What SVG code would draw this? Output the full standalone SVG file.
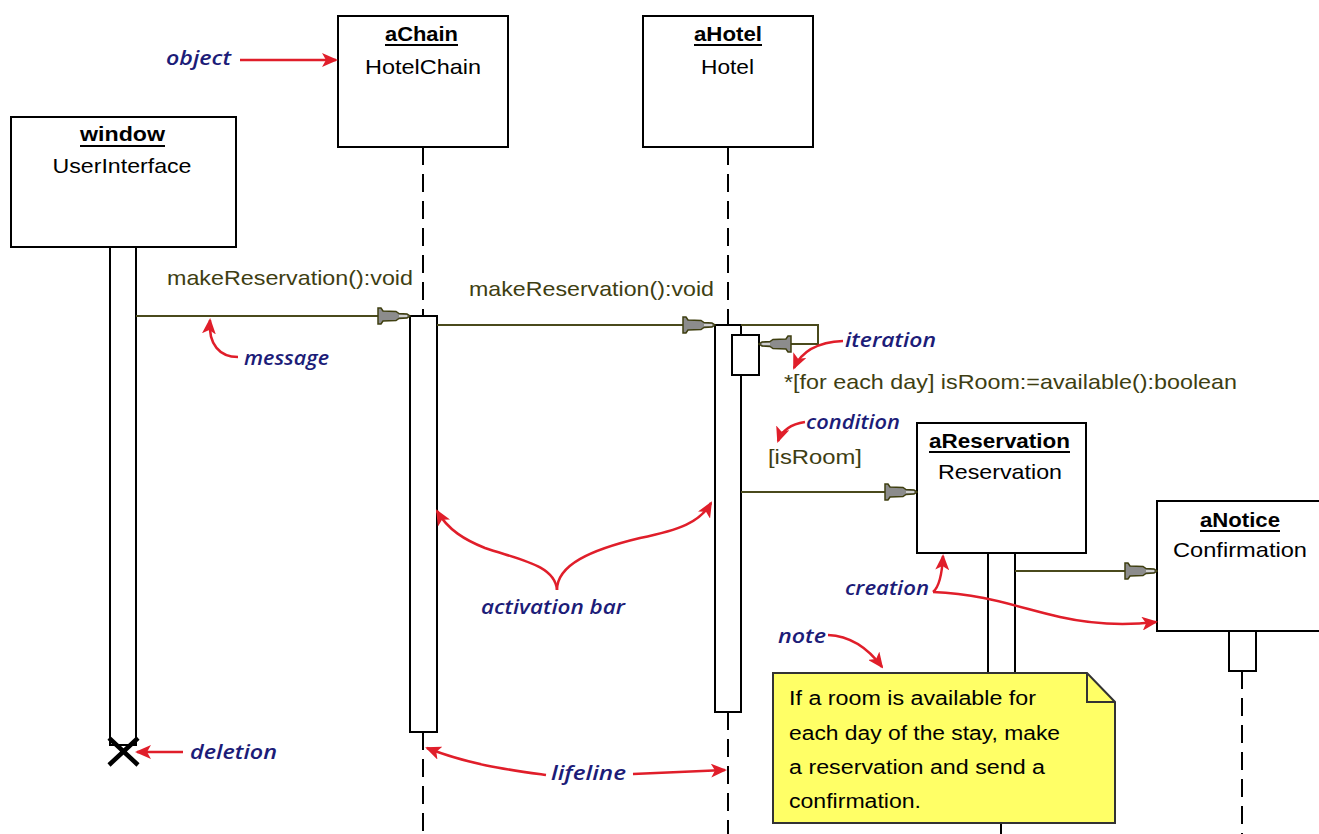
<svg xmlns="http://www.w3.org/2000/svg" width="1319" height="834" viewBox="0 0 1319 834">
<style>
.box{fill:#fff;stroke:#000;stroke-width:2}
.bar{fill:#fff;stroke:#000;stroke-width:2}
.life{stroke:#000;stroke-width:2;stroke-dasharray:18 9;fill:none}
.msg{stroke:#4a4a1c;stroke-width:2;fill:none;marker-end:url(#msgArrow)}
.ml{font-family:"Liberation Sans",Arial,sans-serif;font-size:21px;fill:#3e3e12}
.name{font-family:"Liberation Sans",Arial,sans-serif;font-size:21px;font-weight:bold;fill:#000;text-anchor:middle}
.cls{font-family:"Liberation Sans",Arial,sans-serif;font-size:21px;fill:#000;text-anchor:middle}
.ul{stroke:#000;stroke-width:2}
.ann{font-family:"Open Sans","Noto Sans",sans-serif;font-style:italic;font-weight:600;font-size:20px;fill:#1c1c78}
.red{stroke:#e01e2a;stroke-width:2.5;fill:none;marker-end:url(#redArrow)}
.note{font-family:"Liberation Sans",Arial,sans-serif;font-size:20px;fill:#000}
</style>
<defs>
<marker id="msgArrow" markerUnits="userSpaceOnUse" viewBox="-1 -9 34 18" markerWidth="34" markerHeight="18" refX="32" refY="0" orient="auto">
<path d="M0,-8 L3,-8 L5,-5 L18,-4.5 L21,-2.5 L29,-2 L32,0 L29,2 L21,2.5 L18,4.5 L5,5 L3,8 L0,8 Z" fill="#8c8c8c" stroke="#3f3f10" stroke-width="1.5"/>
<line x1="21" y1="0" x2="29" y2="0" stroke="#fff" stroke-width="1.2"/>
</marker>
<marker id="redArrow" markerUnits="userSpaceOnUse" viewBox="0 -7 16 14" markerWidth="16" markerHeight="14" refX="14" refY="0" orient="auto">
<path d="M0,-7 L16,0 L0,7 L4,0 Z" fill="#e01e2a"/>
</marker>
</defs>
<rect width="1319" height="834" fill="#fff"/>

<g id="lifelines">
<line class="life" x1="423" y1="147" x2="423" y2="316"/>
<line class="life" x1="423" y1="732" x2="423" y2="834"/>
<line class="life" x1="728" y1="147" x2="728" y2="325"/>
<line class="life" x1="728" y1="712" x2="728" y2="834"/>
<line class="life" x1="1001" y1="816" x2="1001" y2="834"/>
<line class="life" x1="1242" y1="671" x2="1242" y2="834"/>
</g>

<g id="window">
<rect class="box" x="11" y="117" width="225" height="130"/>
<text class="name" x="122.5" y="141" textLength="85" lengthAdjust="spacingAndGlyphs">window</text>
<line class="ul" x1="80" y1="146" x2="165" y2="146"/>
<text class="cls" x="122" y="173" textLength="139" lengthAdjust="spacingAndGlyphs">UserInterface</text>
<rect class="bar" x="110" y="247" width="26" height="498"/>
<path d="M109,738 L138,765 M109,765 L138,738" stroke="#000" stroke-width="4.5" fill="none"/>
</g>

<g id="aChain">
<rect class="box" x="338" y="16" width="170" height="131"/>
<text class="name" x="421.5" y="41" textLength="73" lengthAdjust="spacingAndGlyphs">aChain</text>
<line class="ul" x1="385" y1="45" x2="458" y2="45"/>
<text class="cls" x="423" y="74" textLength="116" lengthAdjust="spacingAndGlyphs">HotelChain</text>
<rect class="bar" x="410" y="316" width="27" height="416"/>
</g>

<g id="aHotel">
<rect class="box" x="643" y="16" width="170" height="131"/>
<text class="name" x="728" y="41" textLength="68" lengthAdjust="spacingAndGlyphs">aHotel</text>
<line class="ul" x1="694" y1="45" x2="762" y2="45"/>
<text class="cls" x="727.5" y="74" textLength="53" lengthAdjust="spacingAndGlyphs">Hotel</text>
<rect class="bar" x="715" y="325" width="26" height="387"/>
<rect class="bar" x="732" y="335" width="27" height="40"/>
</g>

<g id="aReservation">
<rect class="bar" x="988" y="553" width="27" height="260"/>
<rect class="box" x="917" y="423" width="169" height="130"/>
<text class="name" x="999.5" y="448" textLength="141" lengthAdjust="spacingAndGlyphs">aReservation</text>
<line class="ul" x1="929" y1="452" x2="1070" y2="452"/>
<text class="cls" x="1000" y="479" textLength="124" lengthAdjust="spacingAndGlyphs">Reservation</text>
</g>

<g id="aNotice">
<rect class="box" x="1157" y="501" width="172" height="130"/>
<text class="name" x="1240" y="527" textLength="80" lengthAdjust="spacingAndGlyphs">aNotice</text>
<line class="ul" x1="1200" y1="531" x2="1280" y2="531"/>
<text class="cls" x="1240" y="557" textLength="134" lengthAdjust="spacingAndGlyphs">Confirmation</text>
<rect class="bar" x="1229" y="631" width="27" height="40"/>
</g>

<g id="connectors">
<line class="msg" x1="136" y1="316" x2="410" y2="316"/>
<line class="msg" x1="437" y1="325" x2="715" y2="325"/>
<path class="msg" d="M741,325 L818,325 L818,344 L759,344"/>
<line class="msg" x1="741" y1="492" x2="917" y2="492"/>
<line class="msg" x1="1015" y1="571" x2="1157" y2="571"/>
<text class="ml" x="167" y="285" textLength="246" lengthAdjust="spacingAndGlyphs">makeReservation():void</text>
<text class="ml" x="469" y="296" textLength="245" lengthAdjust="spacingAndGlyphs">makeReservation():void</text>
<text class="ml" x="784" y="389" textLength="453" lengthAdjust="spacingAndGlyphs">*[for each day] isRoom:=available():boolean</text>
<text class="ml" x="768" y="464" textLength="94" lengthAdjust="spacingAndGlyphs">[isRoom]</text>
</g>

<g id="note">
<path d="M773,673 L1087,673 L1115,702 L1115,823 L773,823 Z" fill="#ffff66" stroke="#333" stroke-width="2"/>
<path d="M1087,673 L1087,702 L1115,702" fill="none" stroke="#333" stroke-width="2"/>
<text class="note" x="789" y="705" textLength="247" lengthAdjust="spacingAndGlyphs">If a room is available for</text>
<text class="note" x="789" y="740" textLength="271" lengthAdjust="spacingAndGlyphs">each day of the stay, make</text>
<text class="note" x="789" y="774" textLength="256" lengthAdjust="spacingAndGlyphs">a reservation and send a</text>
<text class="note" x="789" y="808" textLength="132" lengthAdjust="spacingAndGlyphs">confirmation.</text>
</g>

<g id="annotations">
<path class="red" d="M240,60 L336,60"/>
<text class="ann" x="166" y="65" textLength="65" lengthAdjust="spacingAndGlyphs">object</text>
<path class="red" d="M238,357 C220,357 208,345 210,320"/>
<text class="ann" x="244" y="365" textLength="85" lengthAdjust="spacingAndGlyphs">message</text>
<path class="red" d="M843,341 C820,342 802,350 794,368"/>
<text class="ann" x="845" y="347" textLength="91" lengthAdjust="spacingAndGlyphs">iteration</text>
<path class="red" d="M805,422 C792,424 782,430 778,441"/>
<text class="ann" x="806" y="429" textLength="94" lengthAdjust="spacingAndGlyphs">condition</text>
<path class="red" d="M557,590 C555,565 520,560 485,548 C465,540 448,530 437,511"/>
<path class="red" d="M557,590 C557,565 590,550 640,538 C680,530 700,522 711,503"/>
<text class="ann" x="481" y="614" textLength="144" lengthAdjust="spacingAndGlyphs">activation bar</text>
<path class="red" d="M933,592 C938,588 942,575 943,556"/>
<path class="red" d="M933,592 C985,594 1020,608 1060,617 C1100,626 1130,625 1156,622"/>
<text class="ann" x="845" y="595" textLength="84" lengthAdjust="spacingAndGlyphs">creation</text>
<path class="red" d="M828,635 C850,636 868,648 882,667"/>
<text class="ann" x="778" y="643" textLength="48" lengthAdjust="spacingAndGlyphs">note</text>
<path class="red" d="M183,752 L137,752"/>
<text class="ann" x="190" y="759" textLength="87" lengthAdjust="spacingAndGlyphs">deletion</text>
<path class="red" d="M546,775 C510,770 470,765 427,748"/>
<path class="red" d="M633,774 L725,770"/>
<text class="ann" x="551" y="780" textLength="75" lengthAdjust="spacingAndGlyphs">lifeline</text>
</g>
</svg>
